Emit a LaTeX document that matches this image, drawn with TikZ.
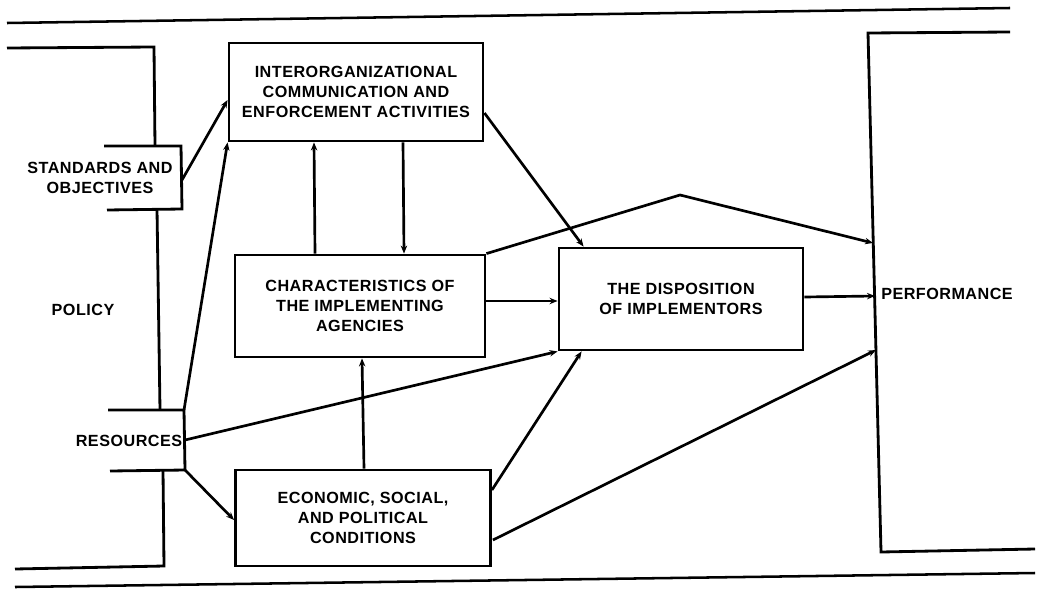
\documentclass[tikz,border=0pt]{standalone}
\usepackage{fontspec}
\setmainfont[LetterSpace=3]{Liberation Sans}
\usetikzlibrary{arrows.meta,positioning,calc}

\begin{document}
\begin{tikzpicture}[
  x=0.025cm, y=-0.025cm,
  font=\fontsize{11.5}{14.2}\selectfont\bfseries,
  >={Stealth[length=2.0mm,width=1.6mm]},
  box/.style={
    draw, line width=2pt,
    align=center,
    inner sep=2pt
  },
  sidetext/.style={align=center, inner sep=0pt},
  frame/.style={line width=2pt},
  rule/.style={line width=1.8pt},
  edge/.style={->, line width=1.9pt}
]
\useasboundingbox (0,0) rectangle (1037,592);

% Rules above and below
\draw[rule] (7,23) -- (1010,8);
\draw[rule] (15,587) -- (1035,573);

% Policy bracket
\coordinate (stdNW) at (104,146);
\coordinate (stdNE) at (181,146);
\coordinate (stdSE) at (182,209);
\coordinate (stdSW) at (107,210);
\coordinate (stdE) at (182,180);
\coordinate (resNW) at (108,410);
\coordinate (resNE) at (184,410);
\coordinate (resSE) at (185,470);
\coordinate (resSW) at (110,471);
\coordinate (resE) at (185,440);

\draw[frame] (7,48) -- (154,47) -- (155,146);
\draw[frame] (stdNW) -- (stdNE) -- (stdSE) -- (stdSW);
\draw[frame] (157,209) -- (160,410);
\draw[frame] (resNW) -- (resNE) -- (resSE) -- (resSW);
\draw[frame] (163,470) -- (164,566) -- (15,569);

\node[sidetext] (stdtext) at (100,178) {STANDARDS AND\\OBJECTIVES};
\node[sidetext] (policy) at (83,310) {POLICY};
\node[sidetext] (resources) at (129,441) {RESOURCES};

% Performance bracket
\coordinate (perfT) at (868,33);
\coordinate (perfB) at (881,552);
\coordinate (perfA) at (873,243);
\coordinate (perfM) at (875,296);
\coordinate (perfC) at (876,350);
\coordinate (peak) at (680,195);

\draw[frame] (1010,32) -- (perfT) -- (perfB) -- (1035,549);
\node[sidetext] (performance) at (947,294) {PERFORMANCE};

% Boxes
\node[box, minimum width=6.35cm, minimum height=2.45cm] (inter) at (356,92)
{INTERORGANIZATIONAL\\COMMUNICATION AND\\ENFORCEMENT ACTIVITIES};

\node[box, minimum width=6.25cm, minimum height=2.55cm] (charac) at (360,306)
{CHARACTERISTICS OF\\THE IMPLEMENTING\\AGENCIES};

\node[box, minimum width=6.1cm, minimum height=2.55cm] (dispo) at (681,299)
{THE DISPOSITION\\OF IMPLEMENTORS};

\node[box, minimum width=6.375cm, minimum height=2.4cm] (econ) at (363,518)
{ECONOMIC, SOCIAL,\\AND POLITICAL\\CONDITIONS};

% Edges
\draw[edge] (stdE) -- ($(inter.west)+(0,8)$);
\draw[edge] (resNE) -- (inter.south west);
\draw[edge] (resE) -- (dispo.south west);
\draw[edge] (resSE) -- ($(econ.west)+(0,2)$);

\draw[edge] ($(charac.north)+(-45,0)$) -- ($(inter.south)+(-42,0)$);
\draw[edge] ($(inter.south)+(47,0)$) -- ($(charac.north)+(44,0)$);
\draw[edge] ($(econ.north)+(1,0)$) -- ($(charac.south)+(2,0)$);

\draw[edge] ($(inter.east)+(0,21)$) -- ($(dispo.north west)+(26,0)$);
\draw[edge] (charac.north east) -- (peak) -- (perfA);
\draw[edge] ($(charac.east)+(0,-5)$) -- ($(dispo.west)+(0,2)$);
\draw[edge] ($(dispo.east)+(0,-2)$) -- (perfM);

\draw[edge] ($(econ.east)+(0,-28)$) -- ($(dispo.south west)+(24,0)$);
\draw[edge] ($(econ.east)+(1,22)$) -- (perfC);

\end{tikzpicture}
\end{document}
